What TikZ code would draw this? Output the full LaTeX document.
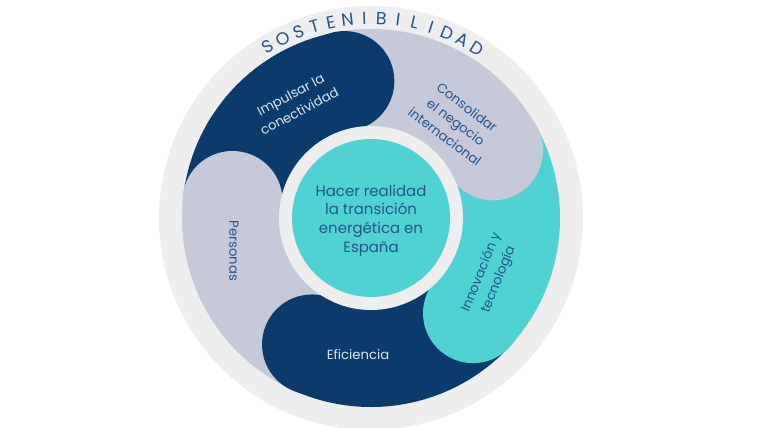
\documentclass[tikz,border=0pt]{standalone}
\usepackage{fontspec}
\setmainfont{Poppins}
\usepackage{tikz}
\usepackage{xcolor}
\usetikzlibrary{calc}
\definecolor{ringgrey}{HTML}{EEEEEE}
\definecolor{navyblue}{HTML}{0B3B6C}
\definecolor{lilacgrey}{HTML}{C6CAD8}
\definecolor{aqua}{HTML}{50D2D3}
\definecolor{inkblue}{HTML}{24558A}
\definecolor{paleink}{HTML}{DDE4EE}
\tikzset{blbl/.style={align=center, font=\fontsize{7.5}{10.5}\selectfont}}
\tikzset{ltr/.style={inner sep=0pt, text=inkblue, font=\fontsize{10}{12}\selectfont}}

\begin{document}
\begin{tikzpicture}
    \useasboundingbox (-7.42, -4.18) rectangle (7.94, 4.36);
    \fill[ringgrey] (0, 0) circle (4.24);
    % bodies of the five arms
    \fill[navyblue] (101:1.8) arc (101:173:1.8) -- (173:3.78) arc (173:101:3.78) -- cycle;
    \fill[lilacgrey] (29:1.8) arc (29:101:1.8) -- (101:3.78) arc (101:29:3.78) -- cycle;
    \fill[aqua] (-43:1.8) arc (-43:29:1.8) -- (29:3.78) arc (29:-43:3.78) -- cycle;
    \fill[navyblue] (-115:1.8) arc (-115:-43:1.8) -- (-43:3.78) arc (-43:-115:3.78) -- cycle;
    \fill[lilacgrey] (173:1.8) arc (173:245:1.8) -- (245:3.78) arc (245:173:3.78) -- cycle;
    % round heads
    \fill[navyblue] (101:2.79) circle (1.0);
    \fill[lilacgrey] (29:2.79) circle (1.0);
    \fill[aqua] (-43:2.79) circle (1.0);
    \fill[navyblue] (-115:2.79) circle (1.0);
    \fill[lilacgrey] (173:2.79) circle (1.0);
    % centre
    \fill[ringgrey] (0, 0) circle (1.84);
    \fill[aqua] (0, 0) circle (1.58);
    \node[align=center, text=inkblue, font=\fontsize{8.5}{10.6}\selectfont] (transicion) at (0, -0.05)
        {Hacer realidad\\la transición\\energética en\\España};
    \node[blbl, text=paleink, rotate=28] (impulsar) at (-1.52, 2.30) {Impulsar la\\conectividad};
    \node[blbl, text=inkblue, rotate=-37] (consolidar) at (1.70, 1.92) {Consolidar\\el negocio\\internacional};
    \node[blbl, text=inkblue, rotate=68] (innovacion) at (2.38, -1.16) {Innovación y\\tecnología};
    \node[blbl, text=paleink] (eficiencia) at (-0.26, -2.74) {Eficiencia};
    \node[blbl, text=inkblue, rotate=-90] (personas) at (-2.74, -0.66) {Personas};
    % title along the ring
    \foreach \ch [count=\i from 0] in {S,O,S,T,E,N,I,B,I,L,I,D,A,D}
        \node[ltr, rotate={31-4.846*\i}] (sost\i) at ({121-4.846*\i}:4.0) {\ch};
\end{tikzpicture}
\end{document}
